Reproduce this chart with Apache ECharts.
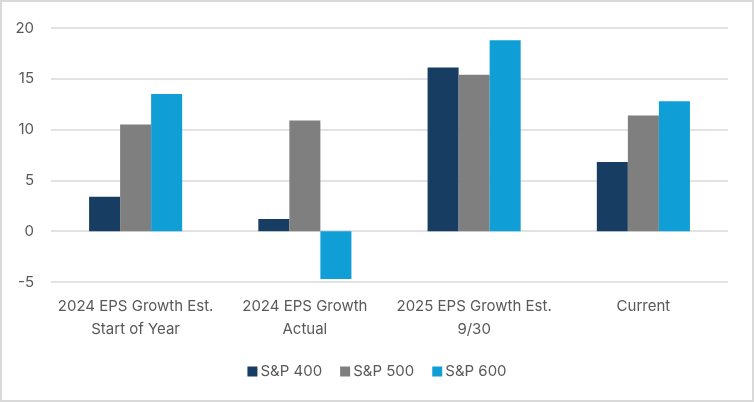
<!DOCTYPE html>
<html>
<head>
<meta charset="utf-8">
<script src="https://cdn.jsdelivr.net/npm/echarts@6/dist/echarts.min.js"></script>
<style>
  html, body { margin: 0; padding: 0; background: #fff; }
  #chart { width: 754px; height: 402px; box-sizing: border-box; border: 2px solid #d9d9d9; }
</style>
</head>
<body>
<div id="chart"></div>
<script>
// categories and values
var categories = ['2024 EPS Growth Est.\nStart of Year', '2024 EPS Growth\nActual', '2025 EPS Growth Est.\n9/30', 'Current'];
var sp400 = [3.4, 1.2, 16.1, 6.8];
var sp500 = [10.5, 10.9, 15.4, 11.4];
var sp600 = [13.5, -4.7, 18.8, 12.8];
var seriesNames = ['S&P 400', 'S&P 500', 'S&P 600'];
var colors = ['#173d63', '#7f7f7f', '#0f9ed5'];

var myEcharts = echarts.init(document.getElementById('chart'));
var font = 'Inter, "Noto Sans", sans-serif';
var option = {
  animation: false,
  color: colors,
  textStyle: { fontFamily: font },
  grid: { left: 49, right: 24, top: 26, bottom: 118 },
  legend: {
    data: seriesNames,
    bottom: 16,
    left: 'center',
    itemWidth: 10,
    itemHeight: 10,
    itemGap: 18,
    icon: 'rect',
    textStyle: { fontSize: 15, color: '#595959', fontFamily: font, padding: [0, 0, 0, -2] }
  },
  xAxis: {
    type: 'category',
    data: categories,
    axisLine: { show: false, onZero: false },
    axisTick: { show: false },
    axisLabel: {
      interval: 0,
      fontSize: 15,
      color: '#595959',
      lineHeight: 23,
      margin: 13
    }
  },
  yAxis: {
    type: 'value',
    min: -5,
    max: 20,
    interval: 5,
    axisLine: { show: false },
    axisTick: { show: false },
    axisLabel: { fontSize: 15, color: '#595959', margin: 17 },
    splitLine: { lineStyle: { color: '#d9d9d9', width: 1.5 } }
  },
  series: [
    { name: seriesNames[0], type: 'bar', data: sp400, barGap: '0%', barCategoryGap: '45%' },
    { name: seriesNames[1], type: 'bar', data: sp500, barGap: '0%', barCategoryGap: '45%' },
    { name: seriesNames[2], type: 'bar', data: sp600, barGap: '0%', barCategoryGap: '45%' }
  ]
};
myEcharts.setOption(option);
</script>
</body>
</html>
